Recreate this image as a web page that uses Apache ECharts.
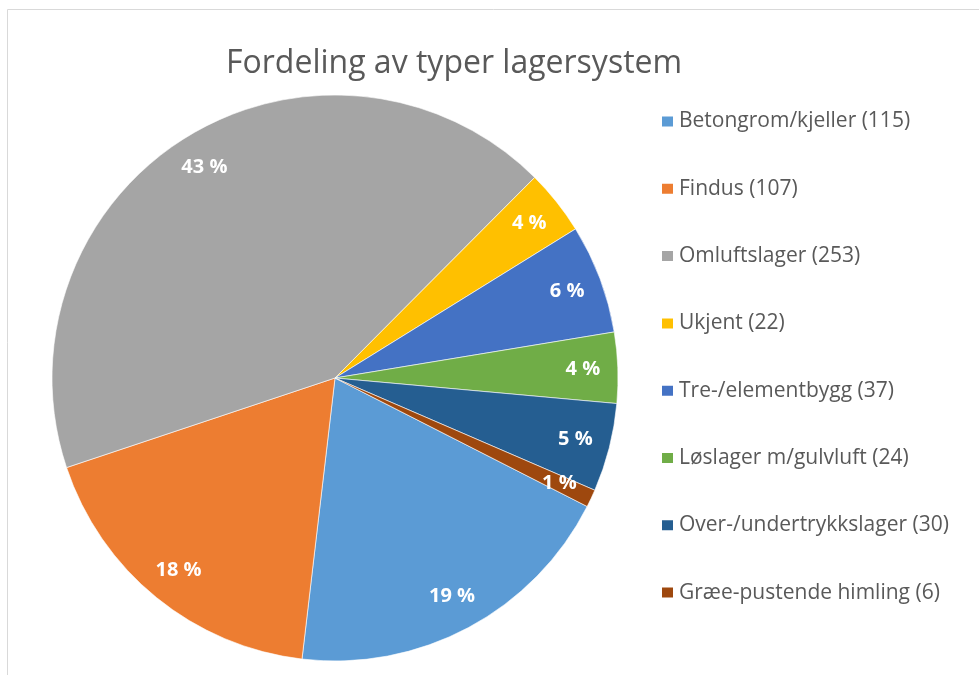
<!DOCTYPE html>
<html style="height: 100%">
<head>
    <meta charset="utf-8">
</head>
<body style="height: 100%; margin: 0; background: #fff">
    <div id="container" style="width: 979px; height: 675px"></div>
    <script type="text/javascript" src="https://cdn.jsdelivr.net/npm/echarts@6/dist/echarts.min.js"></script>
<script type="text/javascript">
    // data
    var categories = ['Betongrom/kjeller', 'Findus', 'Omluftslager', 'Ukjent', 'Tre-/elementbygg',
                      'Løslager m/gulvluft', 'Over-/undertrykkslager', 'Græe-pustende himling'];
    var counts = [115, 107, 253, 22, 37, 24, 30, 6];
    var colors = ['#5B9BD5', '#ED7D31', '#A5A5A5', '#FFC000', '#4472C4', '#70AD47', '#255E91', '#9E480E'];

    var dom = document.getElementById("container");
    var myChart = echarts.init(dom);

    var pieData = [];
    for (var i = 0; i < categories.length; i++) {
        pieData.push({name: categories[i], value: counts[i], itemStyle: {color: colors[i]}});
    }
    var countOf = {};
    for (var j = 0; j < categories.length; j++) {
        countOf[categories[j]] = counts[j];
    }

    var center = [335, 378];
    var startAngle = -27;

    myChart.setOption({
        animation: false,
        title: {
            text: 'Fordeling av typer lagersystem',
            left: 221,
            top: 43,
            textStyle: {fontFamily: 'Open Sans', fontSize: 32, fontWeight: 'normal', color: '#595959'}
        },
        legend: {
            orient: 'vertical',
            left: 655,
            top: 106,
            itemWidth: 13,
            itemHeight: 12,
            itemGap: 46.3,
            icon: 'rect',
            data: categories,
            textStyle: {fontFamily: 'Open Sans', fontSize: 21, color: '#595959'},
            formatter: function (name) {
                return name + ' (' + countOf[name] + ')';
            }
        },
        graphic: [{
            type: 'rect',
            shape: {x: 7.5, y: 9.5, width: 1000, height: 700},
            style: {fill: 'none', stroke: '#d9d9d9', lineWidth: 1},
            silent: true
        }],
        series: [
            {
                type: 'pie',
                center: center,
                radius: 283,
                startAngle: startAngle,
                clockwise: true,
                label: {show: false},
                labelLine: {show: false},
                itemStyle: {borderColor: '#fff', borderWidth: 0.6},
                data: pieData
            },
            {
                // label ring: places percent labels near the outer edge
                type: 'pie',
                center: center,
                radius: [207, 283],
                startAngle: startAngle,
                clockwise: true,
                silent: true,
                legendHoverLink: false,
                avoidLabelOverlap: false,
                percentPrecision: 0,
                itemStyle: {color: 'rgba(0,0,0,0)'},
                label: {
                    show: true,
                    position: 'inside',
                    formatter: '{d} %',
                    fontFamily: 'Open Sans',
                    fontSize: 20,
                    fontWeight: 'bold',
                    color: '#fff'
                },
                labelLine: {show: false},
                data: pieData.map(function (d) { return {name: d.name, value: d.value, itemStyle: {color: 'rgba(0,0,0,0)'}}; })
            }
        ]
    });
</script>
</body>
</html>
